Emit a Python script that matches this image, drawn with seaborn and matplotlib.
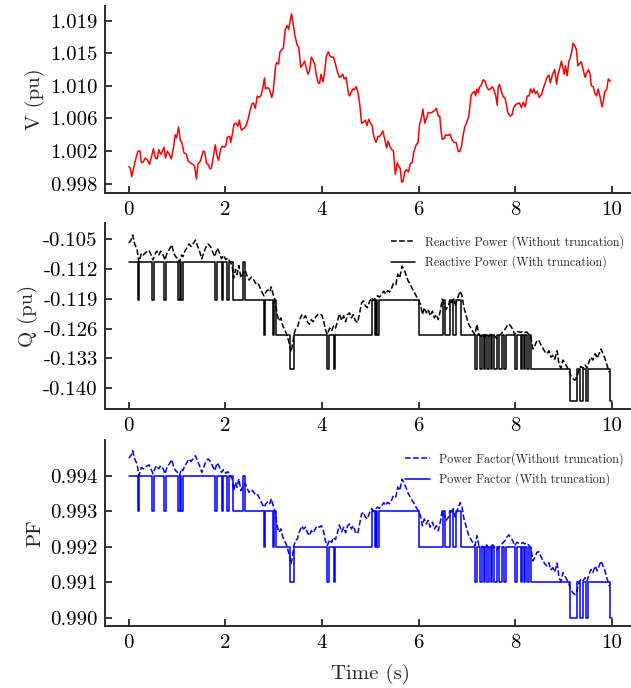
import matplotlib
matplotlib.use("Agg")
import matplotlib.pyplot as plt
import seaborn as sns

# === Data ===
# Voltage (pu) over time (s)
t_v = [0.00, 0.03, 0.06, 0.10, 0.14, 0.19, 0.23, 0.26, 0.30, 0.34,
       0.38, 0.43, 0.47, 0.51, 0.55, 0.59, 0.62, 0.66, 0.69, 0.73,
       0.76, 0.80, 0.85, 0.88, 0.93, 0.96, 0.99, 1.03, 1.07, 1.10,
       1.14, 1.19, 1.23, 1.27, 1.32, 1.36, 1.40, 1.43, 1.48, 1.54,
       1.57, 1.61, 1.64, 1.68, 1.71, 1.75, 1.79, 1.83, 1.86, 1.90,
       1.93, 1.98, 2.01, 2.04, 2.09, 2.11, 2.15, 2.18, 2.22, 2.26,
       2.29, 2.33, 2.38, 2.43, 2.47, 2.51, 2.55, 2.58, 2.62, 2.66,
       2.70, 2.74, 2.77, 2.81, 2.83, 2.87, 2.91, 2.96, 2.99, 3.04,
       3.06, 3.10, 3.13, 3.17, 3.20, 3.24, 3.28, 3.31, 3.37, 3.40,
       3.44, 3.48, 3.52, 3.56, 3.60, 3.64, 3.67, 3.71, 3.74, 3.78,
       3.81, 3.85, 3.88, 3.92, 3.95, 3.98, 4.02, 4.05, 4.09, 4.13,
       4.17, 4.21, 4.24, 4.28, 4.32, 4.36, 4.39, 4.43, 4.46, 4.50,
       4.55,
       4.57, 4.60, 4.64, 4.67, 4.71, 4.74, 4.78, 4.82, 4.86, 4.90,
       4.93, 4.97, 5.00, 5.04, 5.07, 5.12, 5.16, 5.20, 5.26, 5.29,
       5.34, 5.37, 5.40, 5.44, 5.48, 5.52, 5.56, 5.59, 5.62, 5.65,
       5.68, 5.72, 5.75, 5.79, 5.83, 5.87, 5.90, 5.95, 5.99, 6.02,
       6.06, 6.09, 6.13, 6.17, 6.20, 6.24, 6.28, 6.33, 6.37, 6.41,
       6.44, 6.46, 6.49, 6.53, 6.56, 6.61, 6.65, 6.69, 6.74, 6.78,
       6.82, 6.85, 6.89, 6.92, 6.96, 7.00, 7.04, 7.09, 7.12, 7.16,
       7.18, 7.21, 7.24, 7.26, 7.30, 7.34, 7.38, 7.41, 7.45, 7.49,
       7.53, 7.56, 7.60, 7.63, 7.65, 7.68, 7.72, 7.75, 7.79, 7.82,
       7.85, 7.90, 7.94, 7.97, 8.01, 8.05, 8.09, 8.13, 8.17, 8.21,
       8.25, 8.29, 8.32, 8.36, 8.39, 8.42, 8.46, 8.50, 8.55, 8.59,
       8.62, 8.66, 8.70, 8.73, 8.77, 8.80, 8.82, 8.86, 8.89, 8.93,
       8.96, 8.98, 9.02, 9.04, 9.08, 9.11, 9.13, 9.17, 9.20, 9.24,
       9.27, 9.30, 9.34, 9.37, 9.41, 9.45, 9.48, 9.52, 9.55, 9.58,
       9.62, 9.65, 9.69, 9.72, 9.76, 9.80, 9.83, 9.86, 9.90, 9.93,
       9.97]
v = [1.0002, 1.0000, 0.9989, 1.0000, 1.0011, 1.0022, 1.0022, 1.0007, 1.0008, 1.0013,
     1.0011, 1.0005, 1.0015, 1.0025, 1.0013, 1.0012, 1.0024, 1.0018, 1.0021, 1.0027,
     1.0013, 1.0022, 1.0016, 1.0012, 1.0028, 1.0043, 1.0039, 1.0053, 1.0035, 1.0033,
     1.0020, 1.0018, 1.0009, 1.0007, 1.0005, 1.0003, 0.9986, 1.0005, 1.0009, 1.0022,
     1.0021, 1.0006, 1.0005, 0.9999, 1.0000, 1.0015, 1.0030, 1.0015, 1.0010, 1.0024,
     1.0028, 1.0027, 1.0029, 1.0040, 1.0041, 1.0033, 1.0046, 1.0057, 1.0058, 1.0054,
     1.0062, 1.0049, 1.0051, 1.0055, 1.0063, 1.0074, 1.0083, 1.0084, 1.0077, 1.0093,
     1.0091, 1.0094, 1.0102, 1.0116, 1.0102, 1.0104, 1.0102, 1.0091, 1.0099, 1.0132,
     1.0136, 1.0134, 1.0150, 1.0153, 1.0155, 1.0179, 1.0184, 1.0179, 1.0199, 1.0187,
     1.0171, 1.0160, 1.0155, 1.0130, 1.0133, 1.0138, 1.0130, 1.0121, 1.0125, 1.0143,
     1.0140, 1.0134, 1.0121, 1.0110, 1.0109, 1.0121, 1.0111, 1.0121, 1.0144, 1.0150,
     1.0144, 1.0143, 1.0143, 1.0134, 1.0124, 1.0117, 1.0118, 1.0121, 1.0115, 1.0117,
     1.0096,
     1.0093, 1.0097, 1.0102, 1.0101, 1.0105, 1.0099, 1.0084, 1.0058, 1.0059, 1.0062,
     1.0055, 1.0063, 1.0058, 1.0055, 1.0042, 1.0033, 1.0041, 1.0041, 1.0048, 1.0040,
     1.0026, 1.0035, 1.0029, 1.0024, 1.0022, 0.9992, 1.0007, 1.0002, 1.0000, 0.9982,
     0.9983, 0.9996, 0.9998, 0.9995, 1.0006, 1.0007, 1.0020, 1.0030, 1.0033, 1.0056,
     1.0065, 1.0076, 1.0058, 1.0065, 1.0072, 1.0071, 1.0072, 1.0074, 1.0077, 1.0067,
     1.0067, 1.0052, 1.0037, 1.0038, 1.0043, 1.0042, 1.0044, 1.0037, 1.0033, 1.0033,
     1.0022, 1.0021, 1.0028, 1.0041, 1.0054, 1.0059, 1.0067, 1.0094, 1.0097, 1.0099,
     1.0093, 1.0102, 1.0097, 1.0104, 1.0107, 1.0114, 1.0112, 1.0105, 1.0101, 1.0102,
     1.0105, 1.0101, 1.0093, 1.0081, 1.0105, 1.0108, 1.0098, 1.0092, 1.0091, 1.0082,
     1.0071, 1.0067, 1.0069, 1.0078, 1.0082, 1.0083, 1.0084, 1.0078, 1.0085, 1.0079,
     1.0093, 1.0093, 1.0102, 1.0097, 1.0102, 1.0096, 1.0099, 1.0091, 1.0095, 1.0104,
     1.0109, 1.0117, 1.0120, 1.0110, 1.0120, 1.0124, 1.0127, 1.0108, 1.0121, 1.0130,
     1.0138, 1.0132, 1.0121, 1.0132, 1.0119, 1.0137, 1.0140, 1.0149, 1.0161, 1.0157,
     1.0153, 1.0132, 1.0135, 1.0137, 1.0127, 1.0117, 1.0122, 1.0127, 1.0122, 1.0106,
     1.0105, 1.0097, 1.0093, 1.0102, 1.0092, 1.0079, 1.0087, 1.0099, 1.0102, 1.0115,
     1.0112]

# Reactive power / power factor without truncation
t_raw = [0.00, 0.05, 0.08, 0.12, 0.17, 0.21, 0.26, 0.30, 0.36, 0.42,
         0.46, 0.50, 0.55, 0.58, 0.62, 0.66, 0.71, 0.75, 0.79, 0.84,
         0.89, 0.93, 0.97, 1.01, 1.05, 1.09, 1.12, 1.16, 1.20, 1.24,
         1.29, 1.34, 1.38, 1.42, 1.47, 1.51, 1.55, 1.59, 1.64, 1.69,
         1.73, 1.78, 1.83, 1.87, 1.92, 1.96, 2.01, 2.05, 2.10, 2.14,
         2.17, 2.21, 2.24, 2.28, 2.32, 2.37, 2.41, 2.45, 2.49, 2.54,
         2.59, 2.63, 2.67, 2.71, 2.75, 2.80, 2.84, 2.88, 2.92, 2.95,
         2.99, 3.03, 3.07, 3.11, 3.15, 3.19, 3.24, 3.27, 3.31, 3.36,
         3.38, 3.42, 3.45, 3.49, 3.53, 3.58, 3.62, 3.66, 3.70, 3.74,
         3.78, 3.82, 3.87, 3.91, 3.95, 3.99, 4.03, 4.07, 4.11, 4.16,
         4.20, 4.24, 4.28, 4.32, 4.36, 4.41, 4.45, 4.49, 4.53, 4.57,
         4.61, 4.65, 4.69, 4.74, 4.78, 4.82, 4.86, 4.90, 4.94, 4.99,
         5.03, 5.07, 5.11, 5.15, 5.19, 5.24, 5.28, 5.32, 5.36, 5.40,
         5.44, 5.48, 5.53, 5.57, 5.61, 5.66, 5.71, 5.75, 5.79, 5.83,
         5.87, 5.91, 5.95, 5.99, 6.04, 6.08, 6.12, 6.16, 6.20, 6.24,
         6.29, 6.33, 6.37, 6.41, 6.45, 6.49, 6.53, 6.57, 6.62, 6.65,
         6.69, 6.72, 6.76, 6.79, 6.83, 6.86, 6.90, 6.94, 7.00, 7.04,
         7.08, 7.12, 7.17, 7.21, 7.25, 7.29, 7.33, 7.37, 7.41, 7.45,
         7.50, 7.54, 7.58, 7.62, 7.66, 7.70, 7.74, 7.79, 7.83, 7.87,
         7.91, 7.95, 7.99, 8.04, 8.08, 8.12, 8.16, 8.20, 8.24, 8.29,
         8.33, 8.37, 8.41, 8.45, 8.49, 8.53, 8.57, 8.62, 8.66, 8.70,
         8.74, 8.78, 8.82, 8.87, 8.91, 8.95, 8.99, 9.03, 9.07, 9.11,
         9.15, 9.20, 9.24, 9.28, 9.32, 9.36, 9.40, 9.45, 9.49, 9.53,
         9.57, 9.61, 9.66, 9.70, 9.74, 9.78, 9.82, 9.86, 9.90, 9.95]
q_raw = [-0.1059, -0.1051, -0.1040, -0.1061, -0.1074, -0.1104, -0.1083, -0.1087, -0.1080, -0.1076,
         -0.1087, -0.1099, -0.1083, -0.1078, -0.1087, -0.1078, -0.1087, -0.1099, -0.1083, -0.1074,
         -0.1063, -0.1083, -0.1091, -0.1096, -0.1104, -0.1087, -0.1091, -0.1078, -0.1071, -0.1061,
         -0.1067, -0.1059, -0.1052, -0.1065, -0.1080, -0.1096, -0.1083, -0.1070, -0.1061, -0.1067,
         -0.1078, -0.1091, -0.1071, -0.1080, -0.1096, -0.1088, -0.1098, -0.1094, -0.1104, -0.1112,
         -0.1141, -0.1121, -0.1133, -0.1112, -0.1141, -0.1129, -0.1123, -0.1136, -0.1146, -0.1139,
         -0.1146, -0.1154, -0.1152, -0.1162, -0.1173, -0.1183, -0.1174, -0.1169, -0.1174, -0.1162,
         -0.1180, -0.1193, -0.1226, -0.1242, -0.1235, -0.1254, -0.1265, -0.1274, -0.1289, -0.1315,
         -0.1304, -0.1274, -0.1262, -0.1258, -0.1242, -0.1228, -0.1235, -0.1230, -0.1244, -0.1250,
         -0.1239, -0.1244, -0.1233, -0.1227, -0.1230, -0.1227, -0.1239, -0.1262, -0.1274, -0.1259,
         -0.1266, -0.1254, -0.1259, -0.1244, -0.1225, -0.1241, -0.1230, -0.1244, -0.1227, -0.1223,
         -0.1235, -0.1227, -0.1241, -0.1246, -0.1223, -0.1200, -0.1195, -0.1207, -0.1211, -0.1195,
         -0.1187, -0.1194, -0.1187, -0.1183, -0.1186, -0.1179, -0.1172, -0.1179, -0.1171, -0.1174,
         -0.1166, -0.1154, -0.1157, -0.1132, -0.1141, -0.1113, -0.1124, -0.1137, -0.1149, -0.1157,
         -0.1166, -0.1174, -0.1183, -0.1191, -0.1203, -0.1227, -0.1211, -0.1223, -0.1215, -0.1230,
         -0.1219, -0.1235, -0.1227, -0.1239, -0.1219, -0.1191, -0.1203, -0.1215, -0.1207, -0.1191,
         -0.1199, -0.1187, -0.1207, -0.1195, -0.1182, -0.1172, -0.1182, -0.1210, -0.1235, -0.1250,
         -0.1258, -0.1266, -0.1274, -0.1250, -0.1274, -0.1278, -0.1275, -0.1282, -0.1272, -0.1278,
         -0.1274, -0.1272, -0.1278, -0.1283, -0.1278, -0.1274, -0.1268, -0.1262, -0.1254, -0.1249,
         -0.1254, -0.1262, -0.1274, -0.1266, -0.1268, -0.1269, -0.1266, -0.1269, -0.1268, -0.1274,
         -0.1282, -0.1308, -0.1300, -0.1289, -0.1287, -0.1297, -0.1305, -0.1315, -0.1319, -0.1312,
         -0.1327, -0.1323, -0.1332, -0.1312, -0.1345, -0.1353, -0.1334, -0.1341, -0.1349, -0.1357,
         -0.1370, -0.1378, -0.1381, -0.1374, -0.1357, -0.1349, -0.1353, -0.1345, -0.1353, -0.1338,
         -0.1327, -0.1334, -0.1319, -0.1330, -0.1319, -0.1308, -0.1319, -0.1330, -0.1345, -0.1363]
pf_raw = [0.99449, 0.99458, 0.99470, 0.99447, 0.99433, 0.99400, 0.99423, 0.99419, 0.99426, 0.99430,
          0.99419, 0.99405, 0.99423, 0.99428, 0.99419, 0.99428, 0.99419, 0.99405, 0.99423, 0.99433,
          0.99445, 0.99423, 0.99414, 0.99409, 0.99400, 0.99419, 0.99414, 0.99428, 0.99436, 0.99447,
          0.99440, 0.99449, 0.99456, 0.99442, 0.99426, 0.99409, 0.99423, 0.99437, 0.99447, 0.99440,
          0.99428, 0.99414, 0.99436, 0.99426, 0.99409, 0.99417, 0.99407, 0.99411, 0.99400, 0.99391,
          0.99358, 0.99381, 0.99367, 0.99391, 0.99358, 0.99372, 0.99379, 0.99364, 0.99353, 0.99361,
          0.99353, 0.99344, 0.99346, 0.99335, 0.99323, 0.99311, 0.99321, 0.99327, 0.99321, 0.99335,
          0.99315, 0.99300, 0.99260, 0.99241, 0.99250, 0.99227, 0.99213, 0.99203, 0.99184, 0.99151,
          0.99165, 0.99203, 0.99217, 0.99222, 0.99241, 0.99258, 0.99250, 0.99255, 0.99239, 0.99231,
          0.99245, 0.99239, 0.99252, 0.99259, 0.99255, 0.99259, 0.99245, 0.99217, 0.99203, 0.99220,
          0.99212, 0.99226, 0.99220, 0.99239, 0.99261, 0.99242, 0.99255, 0.99239, 0.99259, 0.99264,
          0.99250, 0.99259, 0.99242, 0.99236, 0.99264, 0.99292, 0.99297, 0.99283, 0.99278, 0.99297,
          0.99307, 0.99299, 0.99307, 0.99311, 0.99308, 0.99316, 0.99324, 0.99316, 0.99325, 0.99321,
          0.99330, 0.99344, 0.99340, 0.99368, 0.99358, 0.99390, 0.99377, 0.99363, 0.99349, 0.99340,
          0.99330, 0.99321, 0.99311, 0.99302, 0.99288, 0.99259, 0.99278, 0.99264, 0.99274, 0.99255,
          0.99269, 0.99250, 0.99259, 0.99245, 0.99269, 0.99302, 0.99288, 0.99274, 0.99283, 0.99302,
          0.99293, 0.99307, 0.99283, 0.99298, 0.99312, 0.99324, 0.99312, 0.99279, 0.99250, 0.99231,
          0.99222, 0.99212, 0.99203, 0.99231, 0.99203, 0.99198, 0.99201, 0.99193, 0.99205, 0.99198,
          0.99203, 0.99205, 0.99198, 0.99191, 0.99198, 0.99203, 0.99210, 0.99217, 0.99227, 0.99233,
          0.99227, 0.99217, 0.99203, 0.99212, 0.99210, 0.99208, 0.99212, 0.99208, 0.99210, 0.99203,
          0.99193, 0.99160, 0.99170, 0.99184, 0.99186, 0.99174, 0.99163, 0.99151, 0.99146, 0.99155,
          0.99135, 0.99141, 0.99129, 0.99154, 0.99113, 0.99103, 0.99127, 0.99118, 0.99108, 0.99098,
          0.99080, 0.99070, 0.99065, 0.99075, 0.99098, 0.99108, 0.99103, 0.99113, 0.99103, 0.99122,
          0.99136, 0.99127, 0.99146, 0.99132, 0.99146, 0.99160, 0.99146, 0.99132, 0.99113, 0.99089]

# Truncated signals: switching instants and the level held from each one
t_tr = [0.00, 0.19, 0.22, 0.48, 0.53, 0.73, 0.76, 1.02, 1.06, 1.09,
        1.12, 1.79, 1.83, 1.92, 1.95, 2.04, 2.07, 2.16, 2.37, 2.40,
        2.80, 2.83, 2.99, 3.01, 3.04, 3.33, 3.43, 4.10, 4.14, 4.24,
        4.28, 5.03, 5.09, 5.12, 5.15, 5.19, 6.02, 6.50, 6.55, 6.66,
        6.71, 6.77, 6.88, 7.17, 7.21, 7.28, 7.31, 7.35, 7.38, 7.42,
        7.47, 7.50, 7.53, 7.56, 7.62, 7.66, 7.72, 7.76, 7.82, 8.00,
        8.04, 8.12, 8.15, 8.18, 8.21, 8.24, 8.28, 8.33, 9.13, 9.29,
        9.34, 9.40, 9.46, 9.52, 9.96, 10.00]
lvl_tr = [0, 1, 0, 1, 0, 1, 0, 1, 0, 1,
          0, 1, 0, 1, 0, 1, 0, 1, 0, 1,
          2, 1, 2, 1, 2, 3, 2, 3, 2, 3,
          2, 1, 2, 1, 2, 1, 2, 1, 2, 1,
          2, 1, 2, 3, 2, 3, 2, 3, 2, 3,
          2, 3, 2, 3, 2, 3, 2, 3, 2, 3,
          2, 3, 2, 3, 2, 3, 2, 3, 4, 3,
          4, 3, 4, 3, 4, 4]
pf_levels = [0.994, 0.993, 0.992, 0.991, 0.990]
q_levels = [-0.1104, -0.1193, -0.1276, -0.1355, -0.1430]
pf_tr = [pf_levels[i] for i in lvl_tr]
q_tr = [q_levels[i] for i in lvl_tr]

x_ticks = [0, 2, 4, 6, 8, 10]
v_ticks = [0.998, 1.0022, 1.0064, 1.0106, 1.0148, 1.019]
v_ticklabels = ["0.998", "1.002", "1.006", "1.010", "1.015", "1.019"]
q_ticks = [-0.105, -0.112, -0.119, -0.126, -0.133, -0.140]
pf_ticks = [0.994, 0.993, 0.992, 0.991, 0.990]

# === Style ===
sns.set_style("ticks")
plt.rcParams.update({
    "font.family": "serif",
    "font.serif": ["cmr10", "DejaVu Serif"],
    "mathtext.fontset": "cm",
    "axes.unicode_minus": False,
    "axes.edgecolor": "#2b2b2b",
    "axes.linewidth": 1.4,
    "xtick.direction": "in",
    "ytick.direction": "in",
    "xtick.color": "black",
    "ytick.color": "black",
    "xtick.major.size": 5,
    "ytick.major.size": 5,
    "xtick.major.width": 1.1,
    "ytick.major.width": 1.1,
    "xtick.major.pad": 5.5,
    "ytick.major.pad": 5.0,
    "xtick.labelsize": 15,
    "ytick.labelsize": 15,
    "axes.labelsize": 15,
})

fig = plt.figure(figsize=(6.31, 6.88), dpi=100)
ax1 = fig.add_axes([0.1659, 0.7195, 0.8417, 0.2718])
ax2 = fig.add_axes([0.1659, 0.4055, 0.8417, 0.2703])
ax3 = fig.add_axes([0.1659, 0.0901, 0.8417, 0.2703])

# --- Voltage ---
sns.lineplot(x=t_v, y=v, ax=ax1, color="red", lw=1.1, estimator=None, sort=False)
ax1.set_ylabel("V (pu)")
ax1.set_yticks(v_ticks)
ax1.set_yticklabels(v_ticklabels)
ax1.set_ylim(0.9968, 1.0209)

# --- Reactive power ---
sns.lineplot(x=t_raw, y=q_raw, ax=ax2, color="black", lw=1.1, ls="--",
             estimator=None, sort=False, label="Reactive Power (Without truncation)")
sns.lineplot(x=t_tr, y=q_tr, ax=ax2, color="black", lw=1.1, drawstyle="steps-post",
             estimator=None, sort=False, label="Reactive Power (With truncation)")
ax2.set_ylabel("Q (pu)")
ax2.set_yticks(q_ticks)
ax2.set_yticklabels([f"{t:.3f}" for t in q_ticks])
ax2.set_ylim(-0.1449, -0.1012)

# --- Power factor ---
sns.lineplot(x=t_raw, y=pf_raw, ax=ax3, color="blue", lw=1.1, ls="--",
             estimator=None, sort=False, label="Power Factor(Without truncation)")
sns.lineplot(x=t_tr, y=pf_tr, ax=ax3, color="blue", lw=1.1, drawstyle="steps-post",
             estimator=None, sort=False, label="Power Factor (With truncation)")
ax3.set_ylabel("PF")
ax3.set_yticks(pf_ticks)
ax3.set_yticklabels([f"{t:.3f}" for t in pf_ticks])
ax3.set_ylim(0.98977, 0.99500)
ax3.set_xlabel("Time (s)", labelpad=9)

for ax in (ax1, ax2, ax3):
    ax.set_xlim(-0.5, 10.5)
    ax.set_xticks(x_ticks)
    ax.set_xticklabels([str(x) for x in x_ticks])
    sns.despine(ax=ax)

for ax in (ax2, ax3):
    ax.legend(loc="upper right", frameon=False, fontsize=8.7, handlelength=2.0,
              borderaxespad=0.6, labelspacing=0.55)

fig.savefig("out.png", dpi=100)
